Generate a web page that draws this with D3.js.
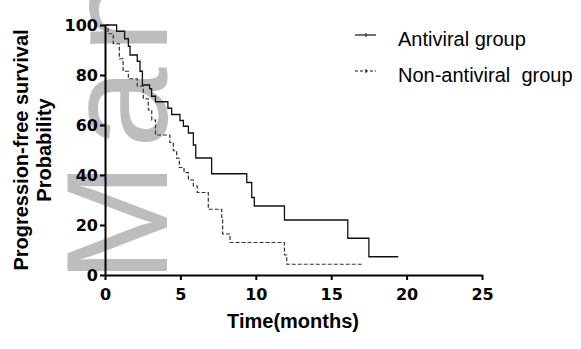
<!DOCTYPE html>
<html lang="en">
<head>
    <meta charset="UTF-8" />
    <title>Progression-free survival</title>
    <script src="https://d3js.org/d3.v7.min.js"></script>
    <style>
        body { margin: 0; background: #fff; }
        svg { display: block; }
        .axis path, .axis line { stroke: #000; stroke-width: 2; }
        .axis text { font-family: "DejaVu Sans", sans-serif; font-weight: bold; font-size: 16px; fill: #000; }
        .title { font-family: "Liberation Sans", Arial, sans-serif; font-weight: bold; font-size: 20px; fill: #000; }
        .legend text { font-family: "Liberation Sans", Arial, sans-serif; font-size: 20px; fill: #000; white-space: pre; }
    </style>
</head>
<body>
    <svg id="chart" width="581" height="349"></svg>
    <script>
        var w = 581;
        var h = 349;

        // Kaplan-Meier steps (months, % survival)
        var antiviralTime = [0, 0.77, 1.3, 1.55, 1.66, 2.14, 2.32, 2.48, 2.96, 3.09, 3.35, 4.17, 4.42, 4.97, 5.2, 5.53, 5.86, 6.02, 7.07, 9.4, 9.73, 9.9, 11.9, 16.1, 17.5, 19.45];
        var antiviralSurv = [100, 97.5, 94.5, 91.5, 88, 85.5, 81.5, 76, 74.5, 71.5, 69.3, 66.7, 64.2, 61.8, 59.5, 56.8, 52, 46.8, 40.5, 37, 31, 27.6, 22, 14.7, 7.3, 7.3];

        var nonAntiviralTime = [0, 0.2, 0.55, 0.95, 1.2, 1.55, 2.14, 2.54, 2.87, 3.1, 3.35, 4.3, 4.53, 4.75, 4.93, 5.24, 5.53, 5.86, 6.12, 6.85, 7.74, 7.8, 8.29, 11.9, 12.05, 17.06];
        var nonAntiviralSurv = [100, 96.5, 92.5, 86.5, 81.5, 78.5, 75.5, 70.5, 66, 62, 56, 53, 49.7, 46.7, 43, 41, 38, 35.6, 33, 26.3, 23, 16.4, 13, 8, 4.3, 4.3];

        var xTicks = [0, 5, 10, 15, 20, 25];
        var yTicks = [0, 20, 40, 60, 80, 100];
        var legendLabels = ["Antiviral group", "Non-antiviral  group"];

        var svg = d3.select("#chart");

        // Watermark behind the chart
        svg.append("text")
            .attr("transform", "translate(167,283) rotate(-90)")
            .attr("font-family", "Liberation Sans, Arial, sans-serif")
            .attr("font-size", 145)
            .attr("letter-spacing", 14)
            .attr("fill", "#bdbdbd")
            .text("Man");

        var xScale = d3.scaleLinear().domain([0, 25]).range([105, 482]);
        var yScale = d3.scaleLinear().domain([0, 100]).range([275, 25]);

        // Axes
        svg.append("g")
            .attr("class", "axis")
            .attr("transform", "translate(0,275)")
            .call(d3.axisBottom(xScale).tickValues(xTicks).tickSize(5).tickPadding(9).tickSizeOuter(0));

        svg.append("g")
            .attr("class", "axis")
            .attr("transform", "translate(105,0)")
            .call(d3.axisLeft(yScale).tickValues(yTicks).tickSize(5).tickPadding(2).tickSizeOuter(0));

        // Survival curves
        var stepLine = d3.line()
            .x(d => xScale(d[0]))
            .y(d => yScale(d[1]))
            .curve(d3.curveStepAfter);

        var antiviral = d3.zip(antiviralTime, antiviralSurv);
        var nonAntiviral = d3.zip(nonAntiviralTime, nonAntiviralSurv);

        svg.append("path")
            .datum(nonAntiviral)
            .attr("d", stepLine)
            .attr("fill", "none")
            .attr("stroke", "#333")
            .attr("stroke-width", 1.2)
            .attr("stroke-dasharray", "4,2");

        svg.append("path")
            .datum(antiviral)
            .attr("d", stepLine)
            .attr("fill", "none")
            .attr("stroke", "#111")
            .attr("stroke-width", 1.3);

        // Axis titles
        svg.append("text")
            .attr("class", "title")
            .attr("x", 293)
            .attr("y", 328)
            .attr("text-anchor", "middle")
            .text("Time(months)");

        svg.append("text")
            .attr("class", "title")
            .attr("transform", "translate(28,150) rotate(-90)")
            .attr("text-anchor", "middle")
            .text("Progression-free survival");

        svg.append("text")
            .attr("class", "title")
            .attr("transform", "translate(51,150) rotate(-90)")
            .attr("text-anchor", "middle")
            .text("Probability");

        // Legend
        var legend = svg.append("g").attr("class", "legend");
        var legendY = [35, 71];
        legendLabels.forEach(function (label, i) {
            legend.append("line")
                .attr("x1", 355).attr("x2", 376)
                .attr("y1", legendY[i]).attr("y2", legendY[i])
                .attr("stroke", "#111")
                .attr("stroke-width", 1.2)
                .attr("stroke-dasharray", i === 0 ? null : "3,2");
            legend.append("line")
                .attr("x1", 366).attr("x2", 366)
                .attr("y1", legendY[i] - 2).attr("y2", legendY[i] + 2)
                .attr("stroke", "#111")
                .attr("stroke-width", 1);
            legend.append("text")
                .attr("x", 398)
                .attr("y", legendY[i] + 11)
                .text(label);
        });
    </script>
</body>
</html>
